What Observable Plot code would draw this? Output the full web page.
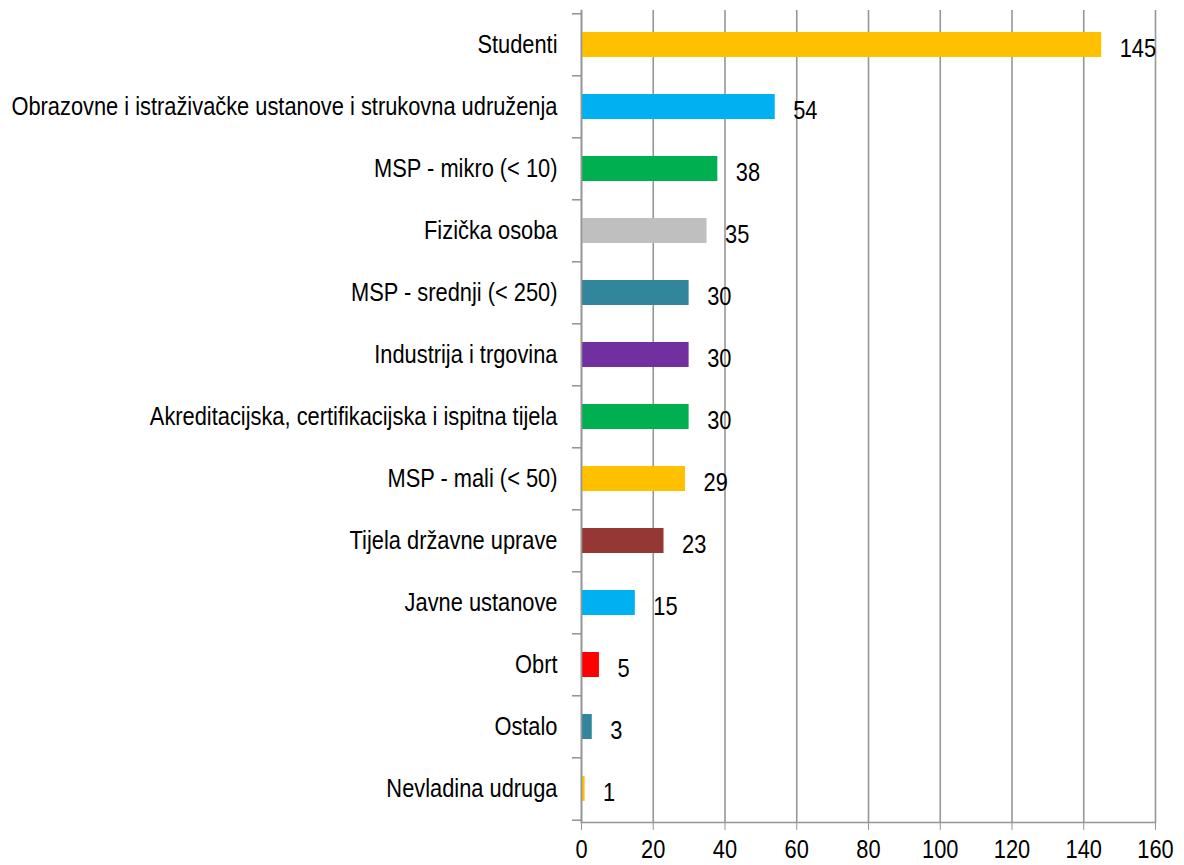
<!DOCTYPE html>
<html>
<head>
<meta charset="utf-8">
<script src="https://cdn.jsdelivr.net/npm/d3@7"></script>
<script src="https://cdn.jsdelivr.net/npm/@observablehq/plot@0.6"></script>
<style>
  body { margin: 0; background: #fff; }
  #chart svg { display: block; }
</style>
</head>
<body>
<div id="chart"></div>
<script>
const categories = [
  "Studenti",
  "Obrazovne i istraživačke ustanove i strukovna udruženja",
  "MSP - mikro (< 10)",
  "Fizička osoba",
  "MSP - srednji (< 250)",
  "Industrija i trgovina",
  "Akreditacijska, certifikacijska i ispitna tijela",
  "MSP - mali (< 50)",
  "Tijela državne uprave",
  "Javne ustanove",
  "Obrt",
  "Ostalo",
  "Nevladina udruga"
];
const values = [145, 54, 38, 35, 30, 30, 30, 29, 23, 15, 5, 3, 1];
const colors = ["#FFC000", "#00B0F0", "#00B050", "#BFBFBF", "#31859C", "#7030A0", "#00B050", "#FFC000", "#953735", "#00B0F0", "#FF0000", "#31859C", "#FFC000"];
const xTicks = [0, 20, 40, 60, 80, 100, 120, 140, 160];

const data = categories.map((c, i) => ({category: c, value: values[i], color: colors[i]}));

const W = 1184, H = 865;
const mT = 10, mB = 43, mL = 581, mR = 29;
const step = (H - mT - mB) / categories.length;
const font = "'Liberation Sans', Arial, sans-serif";
const gray = "#969696";
const fs = 26;

const chart = Plot.plot({
  width: W,
  height: H,
  marginTop: mT,
  marginBottom: mB,
  marginLeft: mL,
  marginRight: mR,
  style: {fontFamily: font, fontSize: fs + "px", color: "#000", background: "#fff"},
  x: {domain: [0, 160], ticks: xTicks},
  y: {domain: categories, paddingInner: 0.6, paddingOuter: 0.3},
  marks: [
    Plot.ruleX(xTicks, {stroke: gray, strokeWidth: 1.6}),
    Plot.barX(data, {x: "value", y: "category", fill: "color"}),
    Plot.frame({anchor: "left", stroke: gray, strokeWidth: 1.6}),
    Plot.frame({anchor: "bottom", stroke: gray, strokeWidth: 1.6}),
    Plot.ruleY(categories, {y: d => d, x1: -2.5, x2: 0, dy: -step / 2, stroke: gray, strokeWidth: 1.6, clip: false}),
    Plot.ruleY(categories.slice(-1), {y: d => d, x1: -2.5, x2: 0, dy: step / 2, stroke: gray, strokeWidth: 1.6, clip: false}),
    Plot.axisX({ticks: xTicks, tickSize: 8, tickPadding: 9, stroke: gray, fontSize: fs, fill: "#000", label: null, tickFormat: d => String(d)}),
    Plot.axisY({tickSize: 0, tickPadding: 24, fontSize: fs, fill: "#000", label: null}),
    Plot.text(data, {x: "value", y: "category", text: d => String(d.value), textAnchor: "start", dx: 18, dy: 4, fontSize: fs, fill: "#000"})
  ]
});
// condense glyphs horizontally to mimic a narrow typeface
chart.querySelectorAll("text").forEach(t => {
  const tr = t.getAttribute("transform") || "";
  t.setAttribute("transform", tr + " scale(0.84,1)");
});
document.getElementById("chart").appendChild(chart);
</script>
</body>
</html>
